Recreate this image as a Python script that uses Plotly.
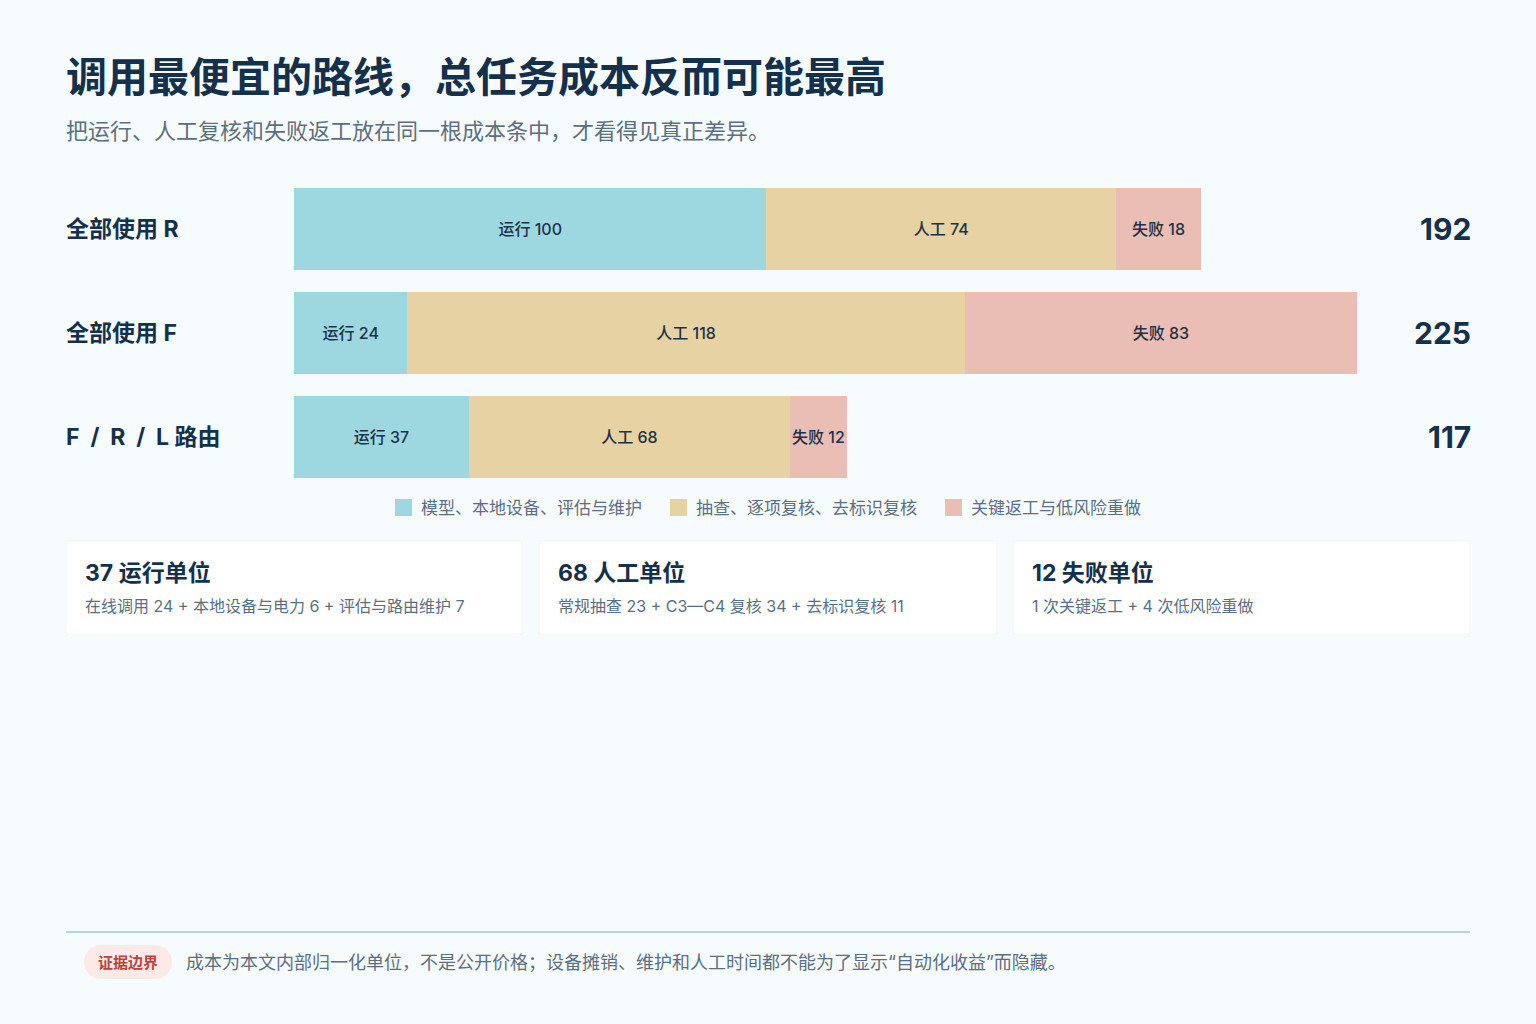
import plotly.graph_objects as go

# 数据
routes = ["全部使用 R", "全部使用 F", "F / R / L 路由"]
run_cost = [100, 24, 37]
human_cost = [74, 118, 68]
fail_cost = [18, 83, 12]

seg_names = ["运行", "人工", "失败"]
seg_desc = ["模型、本地设备、评估与维护", "抽查、逐项复核、去标识复核", "关键返工与低风险重做"]
seg_colors = ["#9dd8e1", "#e6d2a2", "#eabdb5"]

card_titles = ["37 运行单位", "68 人工单位", "12 失败单位"]
card_notes = [
    "在线调用 24 + 本地设备与电力 6 + 评估与路由维护 7",
    "常规抽查 23 + C3—C4 复核 34 + 去标识复核 11",
    "1 次关键返工 + 4 次低风险重做",
]

title = "调用最便宜的路线，总任务成本反而可能最高"
subtitle = "把运行、人工复核和失败返工放在同一根成本条中，才看得见真正差异。"
badge = "证据边界"
footnote = "成本为本文内部归一化单位，不是公开价格；设备摊销、维护和人工时间都不能为了显示“自动化收益”而隐藏。"

W, H = 1536, 1024
L, R_EDGE, T, B_EDGE = 294, 1357, 177, 489
FONT = "Inter, Noto Sans CJK SC, sans-serif"
DARK = "#14304a"
GREY = "#5b6f82"


def px(x):
    return (x - L) / (R_EDGE - L)


def py(y):
    return (B_EDGE - y) / (B_EDGE - T)


fig = go.Figure()
for name, vals, color in zip(seg_names, [run_cost, human_cost, fail_cost], seg_colors):
    fig.add_trace(go.Bar(
        y=routes, x=vals, orientation="h", name=name,
        marker=dict(color=color, line=dict(width=0)),
        text=[f"{name} {v}" for v in vals],
        textposition="inside", insidetextanchor="middle", textangle=0,
        constraintext="none",
        textfont=dict(family=FONT, size=16, color="#1c3249", weight=500),
        showlegend=False, hoverinfo="skip",
    ))

ann = []
shapes = []

# 标题
ann.append(dict(x=px(64), y=py(77), xref="paper", yref="paper", xanchor="left", yanchor="middle",
                text=f"<b>{title}</b>", showarrow=False,
                font=dict(family=FONT, size=41, color=DARK)))
ann.append(dict(x=px(64), y=py(131), xref="paper", yref="paper", xanchor="left", yanchor="middle",
                text=subtitle, showarrow=False, font=dict(family=FONT, size=22, color=GREY)))

# 行标签与合计
for i, r in enumerate(routes):
    total = run_cost[i] + human_cost[i] + fail_cost[i]
    ann.append(dict(x=px(64), y=r, xref="paper", yref="y", xanchor="left", yanchor="middle",
                    text=f"<b>{r.replace(' / ', '  /  ')}</b>", showarrow=False,
                    font=dict(family=FONT, size=23, color=DARK)))
    ann.append(dict(x=px(1473), y=r, xref="paper", yref="y", xanchor="right", yanchor="middle",
                    text=f"<b>{total}</b>", showarrow=False,
                    font=dict(family=FONT, size=30, color=DARK)))

# 图例
leg_x = [395, 670, 945]
for lx, desc, color in zip(leg_x, seg_desc, seg_colors):
    shapes.append(dict(type="rect", xref="paper", yref="paper",
                       x0=px(lx), x1=px(lx + 17), y0=py(516), y1=py(499),
                       fillcolor=color, line=dict(width=0)))
    ann.append(dict(x=px(lx + 24), y=py(508), xref="paper", yref="paper", xanchor="left",
                    yanchor="middle", text=desc, showarrow=False,
                    font=dict(family=FONT, size=17, color=GREY)))

# 卡片
card_x = [(66, 522), (539, 997), (1013, 1470)]
for (cx0, cx1), ct, cn in zip(card_x, card_titles, card_notes):
    shapes.append(dict(type="rect", xref="paper", yref="paper",
                       x0=px(cx0), x1=px(cx1), y0=py(634), y1=py(541),
                       fillcolor="#ffffff", line=dict(color="#f0f5f8", width=1)))
    ann.append(dict(x=px(cx0 + 17), y=py(573), xref="paper", yref="paper", xanchor="left",
                    yanchor="middle", text=f"<b>{ct}</b>", showarrow=False,
                    font=dict(family=FONT, size=23, color=DARK)))
    ann.append(dict(x=px(cx0 + 17), y=py(606), xref="paper", yref="paper", xanchor="left",
                    yanchor="middle", text=cn, showarrow=False,
                    font=dict(family=FONT, size=16, color=GREY)))

# 页脚
shapes.append(dict(type="line", xref="paper", yref="paper",
                   x0=px(66), x1=px(1470), y0=py(932), y1=py(932),
                   line=dict(color="#b9d2de", width=2)))
pill = "#fde9e5"
shapes.append(dict(type="rect", xref="paper", yref="paper",
                   x0=px(101), x1=px(155), y0=py(979), y1=py(945),
                   fillcolor=pill, line=dict(width=0)))
for cx in (101, 155):
    shapes.append(dict(type="circle", xref="paper", yref="paper",
                       xsizemode="pixel", ysizemode="pixel",
                       xanchor=px(cx), yanchor=py(962),
                       x0=-17, x1=17, y0=-17, y1=17,
                       fillcolor=pill, line=dict(width=0)))
ann.append(dict(x=px(128), y=py(962), xref="paper", yref="paper", xanchor="center",
                yanchor="middle", text=f"<b>{badge}</b>", showarrow=False,
                font=dict(family=FONT, size=15, color="#b5463b")))
ann.append(dict(x=px(184), y=py(962), xref="paper", yref="paper", xanchor="left",
                yanchor="middle", text=footnote, showarrow=False,
                font=dict(family=FONT, size=18, color=GREY)))

fig.update_layout(
    width=W, height=H,
    barmode="stack", bargap=22 / 104,
    paper_bgcolor="#f6fbfd", plot_bgcolor="rgba(0,0,0,0)",
    margin=dict(l=L, r=W - R_EDGE, t=T, b=H - B_EDGE, pad=0),
    xaxis=dict(range=[0, 225], visible=False, fixedrange=True),
    yaxis=dict(type="category", categoryorder="array", categoryarray=routes,
               range=[2.5, -0.5], visible=False, fixedrange=True),
    annotations=ann, shapes=shapes,
    showlegend=False,
    font=dict(family=FONT),
)

fig.write_html("out.html", config={"displayModeBar": False},
               post_script="document.body.style.margin='0';")
